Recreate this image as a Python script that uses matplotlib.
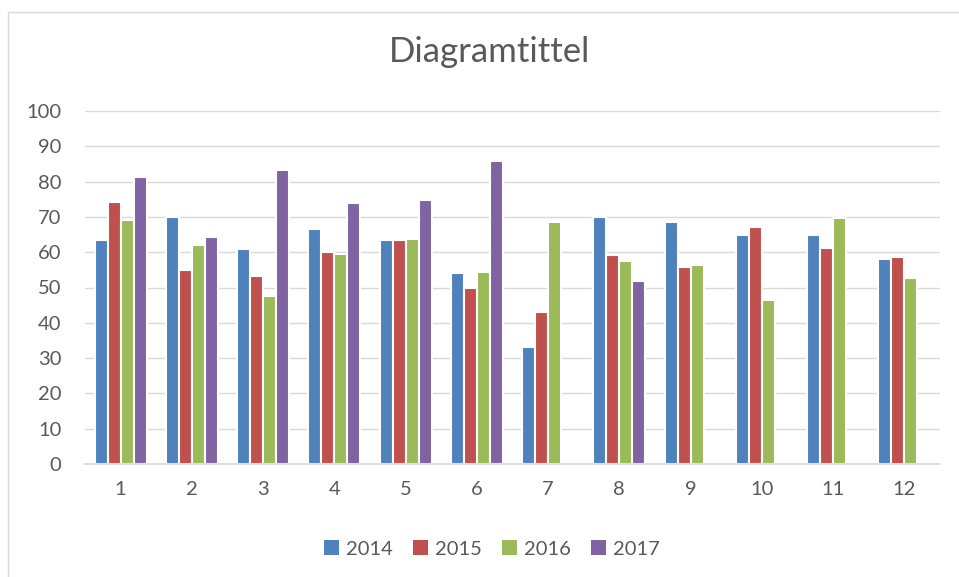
import matplotlib
matplotlib.use("Agg")
import matplotlib.pyplot as plt
from matplotlib.patches import Rectangle, Patch
import numpy as np

plt.rcParams['font.family'] = ['Lato', 'DejaVu Sans']

categories = ["1", "2", "3", "4", "5", "6", "7", "8", "9", "10", "11", "12"]
series_names = ["2014", "2015", "2016", "2017"]
v2014 = [63.5, 70.1, 60.8, 66.6, 63.4, 54.1, 33.2, 70.0, 68.6, 65.0, 65.0, 58.0]
v2015 = [74.1, 55.0, 53.3, 60.0, 63.4, 49.9, 43.1, 59.3, 55.7, 67.2, 61.1, 58.6]
v2016 = [69.1, 62.0, 47.6, 59.5, 63.7, 54.5, 68.5, 57.5, 56.3, 46.5, 69.7, 52.7]
v2017 = [81.4, 64.4, 83.2, 73.9, 74.8, 85.9, np.nan, 51.7, np.nan, np.nan, np.nan, np.nan]
colors = ["#4F81BD", "#C0504D", "#9BBB59", "#8064A2"]
title = "Diagramtittel"

W, H = 959, 577
fig = plt.figure(figsize=(W / 100, H / 100), dpi=100)

# chart border (only left and top edges visible in the frame)
fig.patches.append(Rectangle((8 / W, -0.2), 1.2, (H - 12) / H + 0.2, transform=fig.transFigure,
                             fill=False, edgecolor="#D9D9D9", linewidth=1.0))

ax = fig.add_axes([85 / W, (H - 464) / H, (940 - 85) / W, (464 - 111) / H])

x = np.arange(len(categories))
pitch = 0.1825
data = [v2014, v2015, v2016, v2017]
for i, (vals, c) in enumerate(zip(data, colors)):
    offs = (i - 1.5) * pitch
    ax.bar(x + offs, vals, width=pitch, color=c, edgecolor="white", linewidth=1.5, zorder=3)

ax.set_xlim(-0.5, len(categories) - 0.5)
ax.set_ylim(0, 100)
ax.set_yticks(np.arange(0, 101, 10))
ax.set_xticks(x)
ax.set_xticklabels(categories)
ax.grid(axis="y", color="#D9D9D9", linewidth=1.0, zorder=0)
ax.set_axisbelow(True)
for s in ["top", "right", "left"]:
    ax.spines[s].set_visible(False)
ax.spines["bottom"].set_color("#D9D9D9")
ax.spines["bottom"].set_linewidth(1.2)
ax.spines["bottom"].set_zorder(4)
ax.tick_params(axis="both", length=0, colors="#595959", labelsize=14.5)
ax.tick_params(axis="y", pad=17)
ax.tick_params(axis="x", pad=12)

fig.text(489 / W, 1 - 52 / H, title, ha="center", va="center", fontsize=25, color="#595959")

handles = [Patch(facecolor=c, edgecolor="none") for c in colors]
fig.legend(handles, series_names, loc="center", bbox_to_anchor=(492 / W, 1 - 549 / H),
           ncol=4, frameon=False, fontsize=14.5, labelcolor="#595959",
           handlelength=0.75, handleheight=0.75, handletextpad=0.35, columnspacing=1.0)

fig.savefig("out.png", dpi=100)
